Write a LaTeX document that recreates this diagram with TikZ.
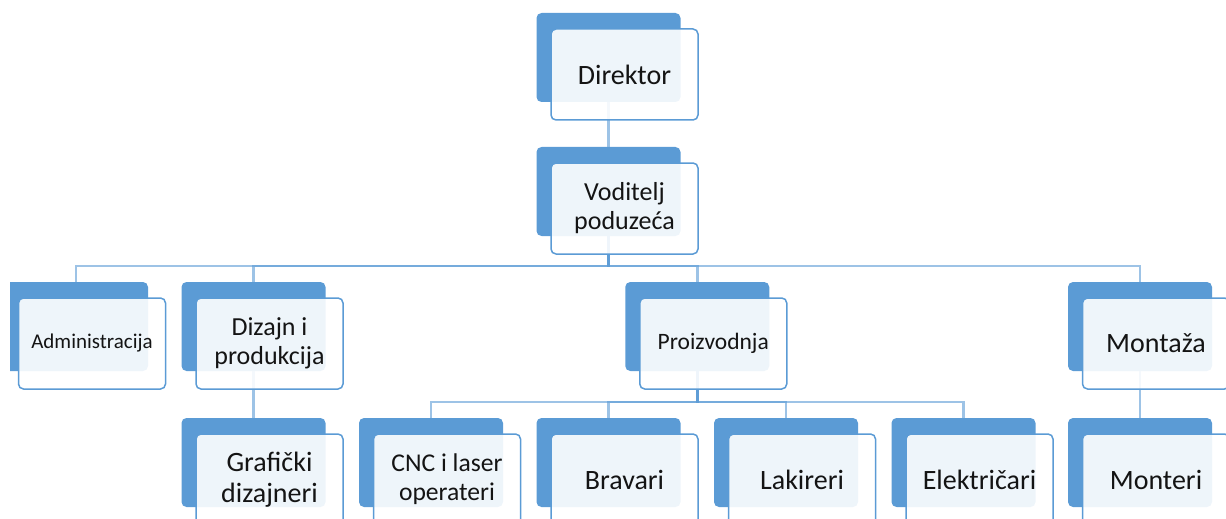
\documentclass[tikz,border=0pt]{standalone}
\usepackage{fontspec}
\setmainfont{Carlito}
\usepackage{tikz}
\usepackage{xcolor}

\definecolor{orgblue}{RGB}{91,155,213}
\definecolor{orgtext}{RGB}{20,20,20}

\begin{document}
\begin{tikzpicture}[x=0.5pt, y=-0.5pt,
  back/.style={fill=orgblue, rounded corners=2.5pt, minimum width=72pt, minimum height=44.5pt, inner sep=0pt},
  front/.style={draw=orgblue, line width=0.75pt, fill=white, fill opacity=0.9, text opacity=1, text=orgtext,
    rounded corners=2.5pt, minimum width=73.5pt, minimum height=45.5pt, inner sep=0pt, align=center,
    xshift=8pt, yshift=-8.5pt, font=\fontsize{14}{15.5}\selectfont},
  conn/.style={draw=orgblue, line width=1.3pt, draw opacity=0.6}]
\useasboundingbox (0,0) rectangle (1226,519);
\clip (10,0) rectangle (1226,519);

% Back boxes
\node[back] (dirB) at (608.5,57.5) {};
\node[back] (vodB) at (608.5,191.5) {};
\node[back] (admB) at (76,326.5) {};
\node[back] (dizB) at (253.5,326.5) {};
\node[back] (proB) at (697.25,326.5) {};
\node[back] (monB) at (1140,326.5) {};
\node[back] (grafB) at (253.5,462.5) {};
\node[back] (cncB) at (431,462.5) {};
\node[back] (bravB) at (608.5,462.5) {};
\node[back] (lakB) at (786,462.5) {};
\node[back] (elekB) at (963.5,462.5) {};
\node[back] (montB) at (1140,462.5) {};

% Connectors
\coordinate (bus1) at (608.5,266);
\coordinate (bus2) at (697.25,402);
\draw[conn] (dirB.south) -- (vodB.north);
\draw[conn] (vodB.south) -- (bus1) -| (admB.north);
\draw[conn] (vodB.south) -- (bus1) -| (dizB.north);
\draw[conn] (vodB.south) -- (bus1) -| (proB.north);
\draw[conn] (vodB.south) -- (bus1) -| (monB.north);
\draw[conn] (dizB.south) -- (grafB.north);
\draw[conn] (proB.south) -- (bus2) -| (cncB.north);
\draw[conn] (proB.south) -- (bus2) -| (bravB.north);
\draw[conn] (proB.south) -- (bus2) -| (lakB.north);
\draw[conn] (proB.south) -- (bus2) -| (elekB.north);
\draw[conn] (monB.south) -- (montB.north);

% Front boxes
\node[front] (dir) at (dirB) {Direktor};
\node[front, font=\fontsize{13}{14.5}\selectfont] (vod) at (vodB) {Voditelj\\poduzeća};
\node[front, font=\fontsize{10.5}{12}\selectfont] (adm) at (admB) {Administracija};
\node[front, font=\fontsize{13}{14.5}\selectfont] (diz) at (dizB) {Dizajn i\\produkcija};
\node[front, font=\fontsize{11.75}{13}\selectfont] (pro) at (proB) {Proizvodnja};
\node[front] (mon) at (monB) {Montaža};
\node[front] (graf) at (grafB) {Grafički\\dizajneri};
\node[front, font=\fontsize{12.8}{14.5}\selectfont] (cnc) at (cncB) {CNC i laser\\operateri};
\node[front] (brav) at (bravB) {Bravari};
\node[front] (lak) at (lakB) {Lakireri};
\node[front] (elek) at (elekB) {Električari};
\node[front] (mont) at (montB) {Monteri};
\end{tikzpicture}
\end{document}
